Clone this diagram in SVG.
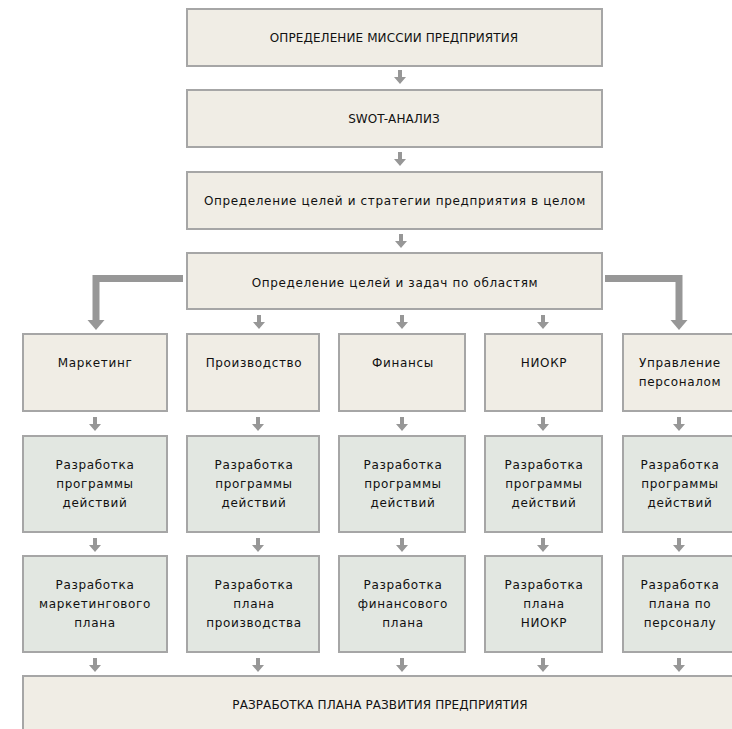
<svg xmlns="http://www.w3.org/2000/svg" width="732" height="729" viewBox="0 0 732 729">
<style>
.b{fill:#f0ede5;stroke:#a6a6a6;stroke-width:2}
.g{fill:#e2e7e1;stroke:#a6a6a6;stroke-width:2}
.t{font-family:"DejaVu Sans",sans-serif;font-size:12px;fill:#111;text-anchor:middle;letter-spacing:0.65px}
.u{font-family:"DejaVu Sans",sans-serif;font-size:12px;fill:#111;text-anchor:middle;letter-spacing:0.1px}
.el{fill:none;stroke:#979797;stroke-width:7}
.ah{fill:#979797}
</style>
<defs>
<path id="sa" d="M-2,0 H2 V7 H6 L0,14 L-6,7 H-2 Z" fill="#979797"/>
</defs>
<rect width="732" height="729" fill="#fff"/>
<g id="connectors">
<use href="#sa" x="400" y="70"/>
<use href="#sa" x="400" y="152"/>
<use href="#sa" x="401" y="234"/>
<use href="#sa" x="259" y="315"/>
<use href="#sa" x="402" y="315"/>
<use href="#sa" x="543" y="315"/>
<use href="#sa" x="95" y="417"/>
<use href="#sa" x="258" y="417"/>
<use href="#sa" x="402" y="417"/>
<use href="#sa" x="543" y="417"/>
<use href="#sa" x="679" y="417"/>
<use href="#sa" x="95" y="538"/>
<use href="#sa" x="258" y="538"/>
<use href="#sa" x="402" y="538"/>
<use href="#sa" x="543" y="538"/>
<use href="#sa" x="679" y="538"/>
<use href="#sa" x="95" y="658"/>
<use href="#sa" x="258" y="658"/>
<use href="#sa" x="402" y="658"/>
<use href="#sa" x="543" y="658"/>
<use href="#sa" x="679" y="658"/>
<path class="el" d="M183,278.5 H96 V321"/>
<polygon class="ah" points="87.5,320 104.5,320 96,330"/>
<path class="el" d="M605,278.5 H679 V321"/>
<polygon class="ah" points="670.5,320 687.5,320 679,330"/>
</g>
<g id="n1"><rect class="b" x="187" y="9" width="415" height="57"/><text class="u" x="394" y="42">ОПРЕДЕЛЕНИЕ МИССИИ ПРЕДПРИЯТИЯ</text></g>
<g id="n2"><rect class="b" x="187" y="90" width="415" height="57"/><text class="u" x="394" y="123">SWOT-АНАЛИЗ</text></g>
<g id="n3"><rect class="b" x="187" y="172" width="415" height="57"/><text class="t" x="395" y="205">Определение целей и стратегии предприятия в целом</text></g>
<g id="n4"><rect class="b" x="187" y="253" width="415" height="56"/><text class="t" x="395" y="287">Определение целей и задач по областям</text></g>
<g id="m1"><rect class="b" x="23" y="334" width="144" height="77"/><text class="t" x="95" y="367">Маркетинг</text></g>
<g id="m2"><rect class="b" x="187" y="334" width="132" height="77"/><text class="t" x="254" y="367">Производство</text></g>
<g id="m3"><rect class="b" x="339" y="334" width="126" height="77"/><text class="t" x="403" y="367">Финансы</text></g>
<g id="m4"><rect class="b" x="485" y="334" width="117" height="77"/><text class="t" x="544" y="367">НИОКР</text></g>
<g id="m5"><rect class="b" x="623" y="334" width="114" height="77"/><text class="t" x="680" y="367">Управление</text><text class="t" x="680" y="386">персоналом</text></g>
<g id="p1"><rect class="g" x="23" y="436" width="144" height="96"/><text class="t" x="95" y="469">Разработка</text><text class="t" x="95" y="488">программы</text><text class="t" x="95" y="507">действий</text></g>
<g id="p2"><rect class="g" x="187" y="436" width="132" height="96"/><text class="t" x="254" y="469">Разработка</text><text class="t" x="254" y="488">программы</text><text class="t" x="254" y="507">действий</text></g>
<g id="p3"><rect class="g" x="339" y="436" width="126" height="96"/><text class="t" x="403" y="469">Разработка</text><text class="t" x="403" y="488">программы</text><text class="t" x="403" y="507">действий</text></g>
<g id="p4"><rect class="g" x="485" y="436" width="117" height="96"/><text class="t" x="544" y="469">Разработка</text><text class="t" x="544" y="488">программы</text><text class="t" x="544" y="507">действий</text></g>
<g id="p5"><rect class="g" x="623" y="436" width="114" height="96"/><text class="t" x="680" y="469">Разработка</text><text class="t" x="680" y="488">программы</text><text class="t" x="680" y="507">действий</text></g>
<g id="q1"><rect class="g" x="23" y="556" width="144" height="96"/><text class="t" x="95" y="589">Разработка</text><text class="t" x="95" y="608">маркетингового</text><text class="t" x="95" y="627">плана</text></g>
<g id="q2"><rect class="g" x="187" y="556" width="132" height="96"/><text class="t" x="254" y="589">Разработка</text><text class="t" x="254" y="608">плана</text><text class="t" x="254" y="627">производства</text></g>
<g id="q3"><rect class="g" x="339" y="556" width="126" height="96"/><text class="t" x="403" y="589">Разработка</text><text class="t" x="403" y="608">финансового</text><text class="t" x="403" y="627">плана</text></g>
<g id="q4"><rect class="g" x="485" y="556" width="117" height="96"/><text class="t" x="544" y="589">Разработка</text><text class="t" x="544" y="608">плана</text><text class="t" x="544" y="627">НИОКР</text></g>
<g id="q5"><rect class="g" x="623" y="556" width="114" height="96"/><text class="t" x="680" y="589">Разработка</text><text class="t" x="680" y="608">плана по</text><text class="t" x="680" y="627">персоналу</text></g>
<g id="final"><rect class="b" x="23" y="676" width="720" height="60"/><text class="u" x="380" y="709">РАЗРАБОТКА ПЛАНА РАЗВИТИЯ ПРЕДПРИЯТИЯ</text></g>
</svg>
